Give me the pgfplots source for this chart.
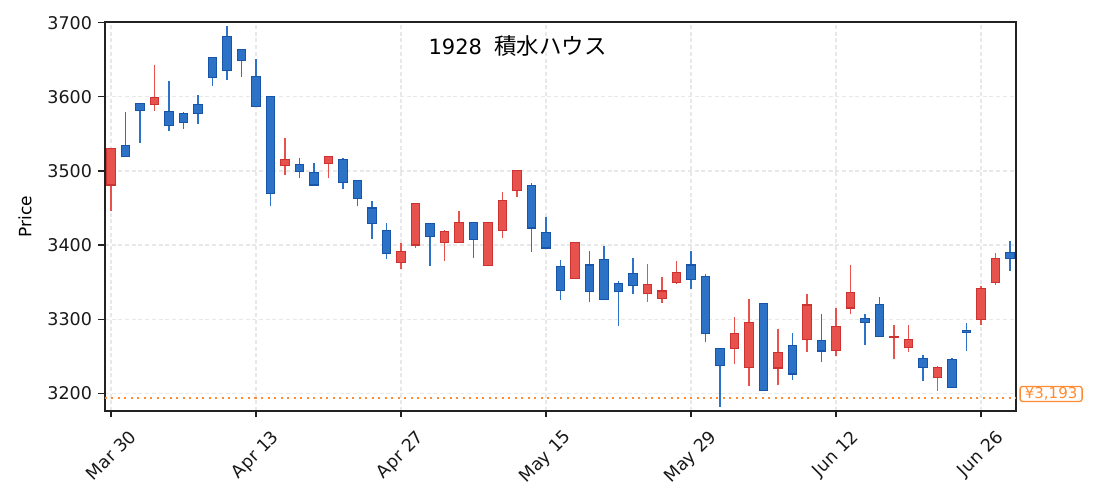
\documentclass[border=0pt]{standalone}
\usepackage{pgfplots}
\usepackage{pgfplotstable}
\pgfplotsset{compat=1.18}
\usepackage{fontspec}
\setmainfont{DejaVu Sans}
\newfontfamily\cjk{Noto Sans CJK JP}
\definecolor{upfill}{RGB}{232,82,76}
\definecolor{upedge}{RGB}{205,50,50}
\definecolor{dnfill}{RGB}{44,114,199}
\definecolor{dnedge}{RGB}{24,84,168}
\definecolor{lastc}{RGB}{255,140,50}
\definecolor{gridc}{RGB}{232,232,232}
\definecolor{spine}{RGB}{34,34,34}

\pgfplotstableread{
i o h l c
0 3481 3530 3446 3530
1 3534 3579 3520 3520
2 3591 3592 3538 3581
3 3590 3643 3581 3599
4 3580 3622 3554 3561
5 3577 3579 3557 3565
6 3590 3603 3563 3578
7 3653 3653 3615 3626
8 3681 3696 3623 3635
9 3664 3664 3627 3649
10 3628 3651 3586 3587
11 3600 3600 3453 3469
12 3507 3545 3495 3516
13 3509 3518 3490 3499
14 3498 3511 3481 3481
15 3510 3519 3490 3519
16 3516 3518 3476 3484
17 3487 3487 3452 3463
18 3450 3460 3408 3429
19 3420 3430 3381 3388
20 3376 3403 3367 3391
21 3400 3456 3396 3456
22 3429 3429 3372 3411
23 3403 3420 3379 3418
24 3403 3446 3403 3431
25 3431 3431 3383 3407
26 3372 3430 3372 3430
27 3419 3472 3409 3460
28 3474 3500 3465 3500
29 3480 3484 3391 3423
30 3417 3438 3394 3396
31 3371 3380 3326 3339
32 3355 3403 3355 3403
33 3373 3392 3323 3337
34 3380 3399 3327 3327
35 3348 3351 3291 3337
36 3361 3382 3334 3345
37 3334 3374 3323 3347
38 3328 3357 3322 3338
39 3350 3378 3347 3363
40 3373 3392 3341 3353
41 3357 3361 3269 3281
42 3260 3260 3181 3238
43 3260 3303 3240 3281
44 3235 3327 3210 3295
45 3321 3321 3204 3204
46 3234 3287 3211 3255
47 3265 3281 3218 3226
48 3272 3334 3255 3319
49 3271 3307 3242 3257
50 3258 3315 3250 3290
51 3315 3373 3307 3336
52 3301 3307 3265 3296
53 3320 3330 3277 3277
54 3275 3292 3246 3277
55 3262 3292 3255 3273
56 3247 3251 3217 3235
57 3221 3237 3203 3235
58 3245 3247 3208 3208
59 3285 3295 3257 3282
60 3300 3345 3292 3341
61 3350 3389 3346 3382
62 3390 3405 3365 3382
}\data

\begin{document}
\begin{tikzpicture}
\useasboundingbox (-105pt,-89pt) rectangle (990pt,411pt);
\begin{axis}[
  at={(0pt,0pt)}, anchor=south west,
  width=911pt, height=389pt, scale only axis,
  xmin=-0.41, xmax=62.41, ymin=3176, ymax=3701,
  clip=false,
  axis line style={spine, line width=1.3pt},
  xtick={0,10,20,30,40,50,60},
  xticklabels={\rotatebox{45}{Mar 30},\rotatebox{45}{Apr 13},\rotatebox{45}{Apr 27},\rotatebox{45}{May 15},\rotatebox{45}{May 29},\rotatebox{45}{Jun 12},\rotatebox{45}{Jun 26}},
  ytick={3200,3300,3400,3500,3600,3700},
  yticklabels={3200,3300,3400,3500,3600,3700},
  xtick pos=left, ytick pos=left,
  tick align=outside, major tick length=6.5pt,
  tick style={spine, line width=1.2pt},
  grid=major,
  major grid style={gridc, line width=1.2pt, dash pattern=on 4pt off 2.7pt},
  tick label style={font=\fontsize{17.5}{20}\selectfont, text=black!90},
  yticklabel style={xshift=-3pt},
  xticklabel style={anchor=north, yshift=-8pt},
  ylabel={Price},
  every axis y label/.style={at={(axis description cs:-0.0878,0.5)}, anchor=center, rotate=90, font=\fontsize{17}{20}\selectfont},
]
\pgfplotsforeachungrouped \k in {0,...,62}{%
  \pgfplotstablegetelem{\k}{o}\of\data\let\vO\pgfplotsretval
  \pgfplotstablegetelem{\k}{h}\of\data\let\vH\pgfplotsretval
  \pgfplotstablegetelem{\k}{l}\of\data\let\vL\pgfplotsretval
  \pgfplotstablegetelem{\k}{c}\of\data\let\vC\pgfplotsretval
  \pgfmathsetmacro\xa{\k-0.3}%
  \pgfmathsetmacro\xb{\k+0.3}%
  \ifdim\vC pt<\vO pt\def\fc{dnfill}\def\ec{dnedge}\else\def\fc{upfill}\def\ec{upedge}\fi
  \edef\tmp{\noexpand\addplot[\fc, line width=1.5pt, forget plot] coordinates {(\k,\vL) (\k,\vH)};
    \noexpand\addplot[draw=\ec, fill=\fc, line width=1.1pt, forget plot] coordinates {(\xa,\vO) (\xb,\vO) (\xb,\vC) (\xa,\vC)} -- cycle;}%
  \tmp
}
\addplot[lastc, line width=2pt, dash pattern=on 2pt off 4.5pt, forget plot] coordinates {(-0.41,3193) (62.41,3193)};
\node[anchor=west, font=\fontsize{21}{24}\selectfont] at (rel axis cs:0.3513,0.938) {1928\hspace{12pt}{\cjk\fontsize{22.5}{24}\selectfont 積水ハウス}};
\node[draw=lastc, fill=white, text=lastc, line width=1.3pt, rounded corners=2.5pt, inner sep=0pt, minimum width=62pt, minimum height=15pt, font=\fontsize{15}{16}\selectfont] at (axis cs:64.83,3199) {¥3,193};
\end{axis}
\end{tikzpicture}
\end{document}
